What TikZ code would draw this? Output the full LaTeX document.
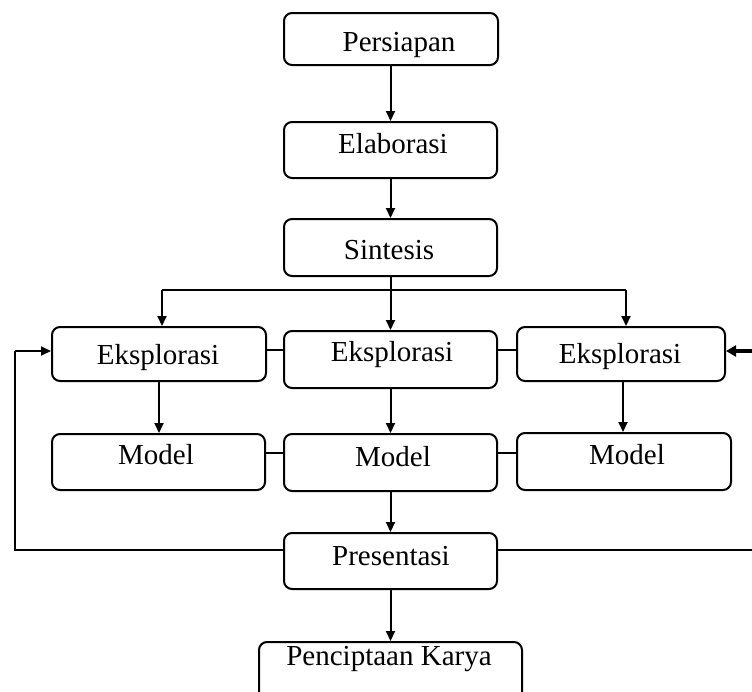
\documentclass[tikz,border=0pt]{standalone}
\usepackage{fontspec}
\setmainfont{Liberation Serif}
\usetikzlibrary{arrows.meta}
\begin{document}
\begin{tikzpicture}[x=1pt,y=-1pt,
  box/.style={draw,rounded corners=8pt,line width=2pt,inner sep=0pt},
  lbl/.style={anchor=base,inner sep=0pt,font=\fontsize{29}{34}\selectfont},
  flow/.style={line width=2pt,-{Triangle[length=10pt,width=9pt]}},
  bigflow/.style={line width=3.2pt,-{Triangle[length=10pt,width=11pt]}},
  link/.style={line width=2.8pt},
  plain/.style={line width=2pt}]
\clip (0,0) rectangle (752,691);
% boxes
\node[box,minimum width=214pt,minimum height=52pt] (pers) at (391,39) {};
\node[box,minimum width=213pt,minimum height=56pt] (elab) at (390.5,150) {};
\node[box,minimum width=213pt,minimum height=57pt] (sint) at (390.5,247.5) {};
\node[box,minimum width=214pt,minimum height=54pt] (e1) at (159,354) {};
\node[box,minimum width=213pt,minimum height=57pt] (e2) at (390.5,359.5) {};
\node[box,minimum width=208pt,minimum height=54pt] (e3) at (621,354) {};
\node[box,minimum width=213pt,minimum height=56pt] (m1) at (158.5,462) {};
\node[box,minimum width=213pt,minimum height=57pt] (m2) at (390.5,462.5) {};
\node[box,minimum width=214pt,minimum height=57pt] (m3) at (624,461.5) {};
\node[box,minimum width=213pt,minimum height=56pt] (pres) at (390.5,561) {};
\node[box,minimum width=263pt,minimum height=58pt] (penc) at (390.5,671) {};
% labels
\node[lbl] (tpers) at (399,51) {Persiapan};
\node[lbl] (telab) at (393,153) {Elaborasi};
\node[lbl] (tsint) at (389,259) {Sintesis};
\node[lbl] (te1) at (158,364) {Eksplorasi};
\node[lbl] (te2) at (392,361) {Eksplorasi};
\node[lbl] (te3) at (620,363) {Eksplorasi};
\node[lbl] (tm1) at (156,464) {Model};
\node[lbl] (tm2) at (393,466) {Model};
\node[lbl] (tm3) at (627,464) {Model};
\node[lbl] (tpres) at (391,565) {Presentasi};
\node[lbl] (tpenc) at (389,665) {Penciptaan Karya};
% coordinates
\coordinate (split) at (391,290);
\coordinate (sl) at (162,290);
\coordinate (sr) at (626,290);
\coordinate (fl1) at (15,550);
\coordinate (fl2) at (15,351);
\coordinate (fr1) at (755,550);
\coordinate (fr2) at (755,351);
% connectors
\draw[flow] (elab.north |- pers.south) -- (elab.north);
\draw[flow] (elab.south) -- (sint.north);
\draw[flow] (sint.south) -- (e2.north);
\draw[plain] (sl) -- (sr);
\draw[flow] (sl) -- (sl |- e1.north);
\draw[flow] (sr) -- (sr |- e3.north);
\draw[flow] (e1.south) -- (e1.south |- m1.north);
\draw[flow] (e2.south) -- (m2.north);
\draw[flow] ([xshift=2pt]e3.south) -- ([xshift=2pt]e3.south |- m3.north);
\draw[link] ([yshift=4pt]e1.east) -- ([yshift=4pt]e1.east -| e2.west);
\draw[link] ([yshift=4pt]e3.west -| e2.east) -- ([yshift=4pt]e3.west);
\draw[link] ([yshift=9pt]m1.east) -- ([yshift=9pt]m1.east -| m2.west);
\draw[link] ([yshift=9pt]m1.east -| m2.east) -- ([yshift=9pt]m1.east -| m3.west);
\draw[flow] (m2.south) -- (pres.north);
\draw[flow] (pres.south) -- (penc.north);
\draw[plain] ([yshift=11pt]pres.west) -- (fl1) -- (fl2);
\draw[flow] (fl2) -- (fl2 -| e1.west);
\draw[plain] ([yshift=11pt]pres.east) -- (fr1) -- (fr2);
\draw[bigflow] (fr2) -- (fr2 -| e3.east);
\end{tikzpicture}
\end{document}
